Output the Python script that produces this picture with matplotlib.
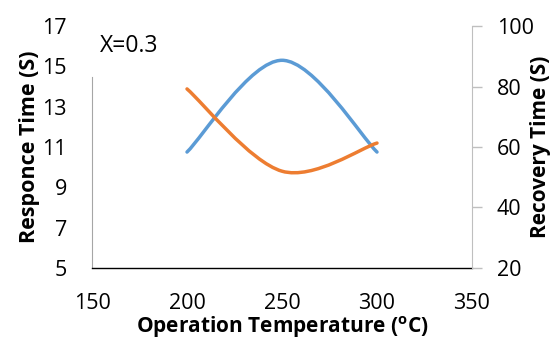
import matplotlib
matplotlib.use("Agg")
import matplotlib.pyplot as plt
from matplotlib.path import Path
from matplotlib.patches import PathPatch
import numpy as np

plt.rcParams['font.family'] = ['Open Sans', 'DejaVu Sans']
plt.rcParams['mathtext.fontset'] = 'custom'
plt.rcParams['mathtext.rm'] = 'Open Sans'
plt.rcParams['mathtext.bf'] = 'Open Sans:bold'

temperature = [200, 250, 300]
response_time = [10.75, 15.3, 10.75]
recovery_time = [79.2, 52.0, 61.3]
x_ticks = [150, 200, 250, 300, 350]
left_ticks = [5, 7, 9, 11, 13, 15, 17]
right_ticks = [20, 40, 60, 80, 100]

BLUE = '#5B9BD5'
ORANGE = '#ED7D31'


def smooth_path(xs, ys):
    """Excel-like smoothed line: cubic Bezier with Catmull-Rom tangents (tension 1/6)."""
    pts = np.column_stack([xs, ys]).astype(float)
    n = len(pts)
    verts = [pts[0]]
    codes = [Path.MOVETO]
    for i in range(n - 1):
        p0 = pts[i - 1] if i > 0 else pts[i]
        p1 = pts[i]
        p2 = pts[i + 1]
        p3 = pts[i + 2] if i + 2 < n else pts[i + 1]
        c1 = p1 + (p2 - p0) / 6.0
        c2 = p2 - (p3 - p1) / 6.0
        verts += [c1, c2, p2]
        codes += [Path.CURVE4] * 3
    return Path(verts, codes)


fig = plt.figure(figsize=(5.53, 3.40), dpi=100)
ax = fig.add_axes([0.1664, 0.2118, 0.6871, 0.7117])
ax2 = ax.twinx()

ax.set_xlim(150, 350)
ax.set_ylim(5, 17)
ax2.set_ylim(20, 100)

ax.add_patch(PathPatch(smooth_path(temperature, response_time), fill=False,
                       edgecolor=BLUE, lw=2.5, capstyle='round', zorder=3))
ax2.add_patch(PathPatch(smooth_path(temperature, recovery_time), fill=False,
                        edgecolor=ORANGE, lw=2.5, capstyle='round', zorder=3))

ax.set_xticks(x_ticks)
ax.set_yticks(left_ticks)
ax2.set_yticks(right_ticks)

for a in (ax, ax2):
    a.spines['top'].set_visible(False)
    a.patch.set_visible(False)

ax.spines['right'].set_visible(False)
ax2.spines['left'].set_visible(False)
ax2.spines['bottom'].set_visible(False)
ax.spines['left'].set_color('#A6A6A6')
ax.spines['left'].set_bounds(5, 14.47)
ax.spines['bottom'].set_color('black')
ax.spines['bottom'].set_linewidth(1.0)
ax2.spines['right'].set_color('#BFBFBF')

ax.tick_params(axis='x', length=0, pad=18, labelsize=15.5)
ax.tick_params(axis='y', length=0, pad=18, labelsize=15.5)
ax2.tick_params(axis='y', length=7, width=1, color='#BFBFBF', pad=11, labelsize=15.5)

ax.set_xlabel('Operation Temperature (' + r'$^{\mathbf{o}}$' + 'C)',
              fontsize=15, fontweight='bold', labelpad=0)
ax.set_ylabel('Responce Time (S)', fontsize=15.5, fontweight='bold', labelpad=2)
ax2.set_ylabel('Recovery Time (S)', fontsize=15, fontweight='bold', labelpad=-3)

ax.text(0.02, 0.919, 'X=0.3', transform=ax.transAxes, fontsize=16.5,
        ha='left', va='center')

fig.savefig('out.png', dpi=100)
